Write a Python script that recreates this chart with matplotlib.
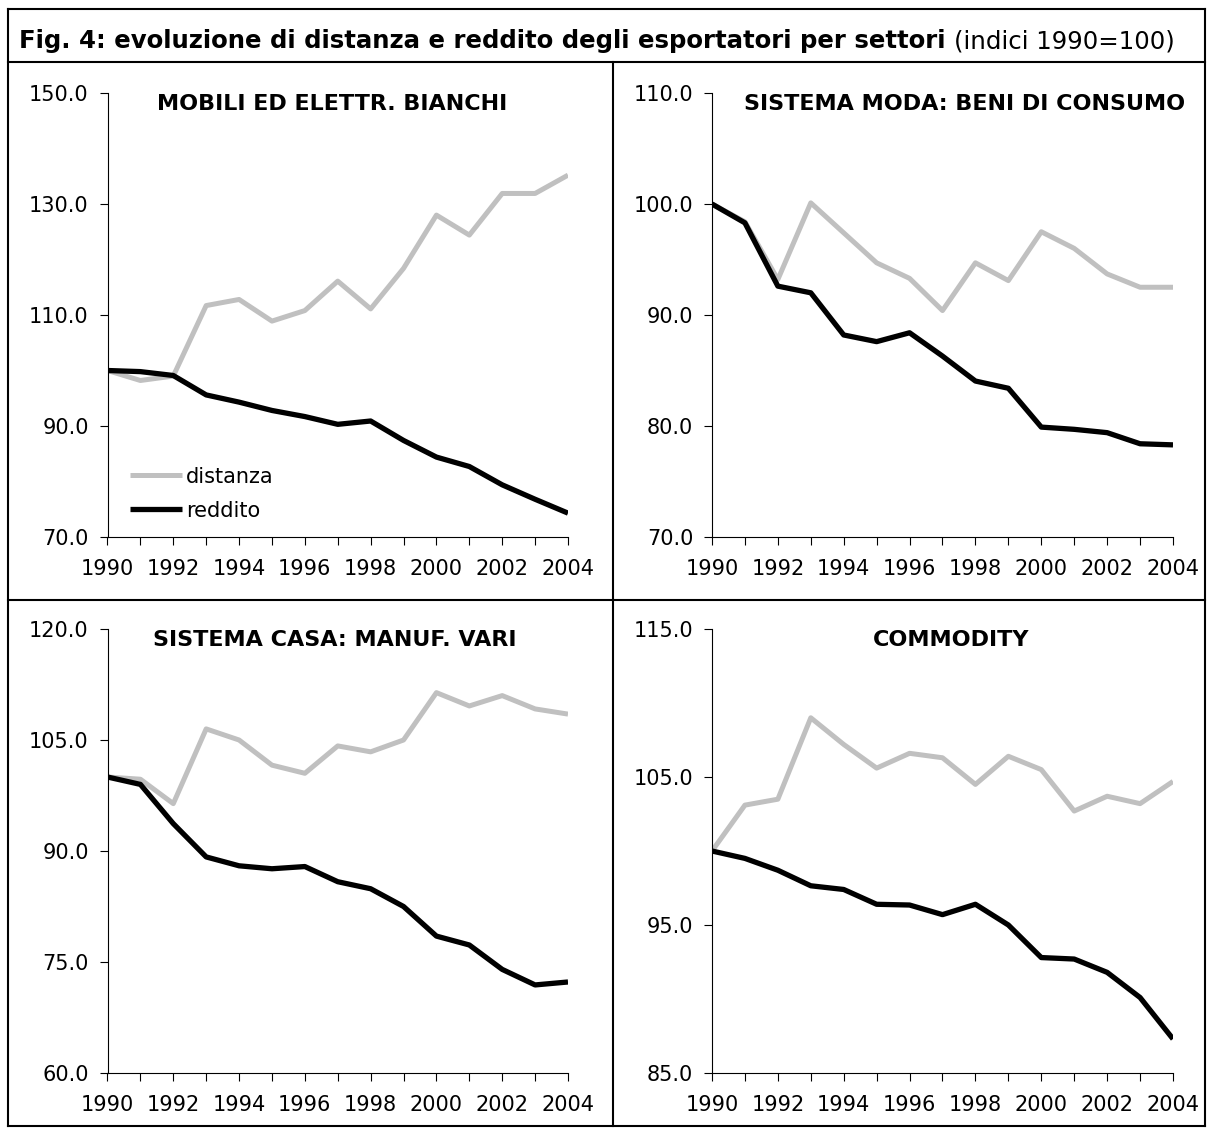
import numpy as np
import matplotlib.pyplot as plt
from matplotlib.lines import Line2D

years = np.arange(1990, 2005)

titles = ["MOBILI ED ELETTR. BIANCHI", "SISTEMA MODA: BENI DI CONSUMO",
          "SISTEMA CASA: MANUF. VARI", "COMMODITY"]

distanza_mobili = [100.0, 98.2, 99.0, 111.7, 112.8, 108.9, 110.8, 116.1, 111.1, 118.4, 128.0, 124.4, 131.9, 131.9, 135.2]
reddito_mobili = [100.0, 99.8, 99.1, 95.6, 94.3, 92.8, 91.7, 90.3, 90.9, 87.4, 84.4, 82.7, 79.4, 76.8, 74.3]

distanza_moda = [100.0, 98.4, 93.2, 100.1, 97.4, 94.7, 93.3, 90.4, 94.7, 93.1, 97.5, 96.0, 93.7, 92.5, 92.5]
reddito_moda = [100.0, 98.3, 92.6, 92.0, 88.2, 87.6, 88.4, 86.3, 84.05, 83.4, 79.9, 79.7, 79.4, 78.4, 78.3]

distanza_casa = [100.0, 99.7, 96.4, 106.5, 105.0, 101.6, 100.5, 104.2, 103.4, 105.0, 111.4, 109.6, 111.0, 109.2, 108.5]
reddito_casa = [100.0, 99.0, 93.7, 89.2, 88.0, 87.6, 87.9, 85.85, 84.9, 82.5, 78.5, 77.3, 74.0, 71.9, 72.3]

distanza_comm = [100.0, 103.1, 103.5, 109.0, 107.2, 105.6, 106.6, 106.3, 104.5, 106.4, 105.5, 102.7, 103.7, 103.2, 104.7]
reddito_comm = [100.0, 99.5, 98.7, 97.65, 97.4, 96.4, 96.35, 95.7, 96.4, 95.0, 92.8, 92.7, 91.8, 90.1, 87.3]

yticks = [np.arange(70, 151, 20), np.arange(70, 111, 10),
          np.arange(60, 121, 15), np.arange(85, 116, 10)]

series = [(distanza_mobili, reddito_mobili), (distanza_moda, reddito_moda),
          (distanza_casa, reddito_casa), (distanza_comm, reddito_comm)]

W, H = 1207, 1128
fig = plt.figure(figsize=(W / 100, H / 100), dpi=100)

# axes boxes in pixels: left, right, top, bottom
boxes = [(107.5, 568, 93, 537), (712, 1173, 93, 537),
         (107.5, 568, 629, 1073), (712, 1173, 629, 1073)]
title_x = [0.488, 0.547, 0.494, 0.518]

for i, (l, r, t, b) in enumerate(boxes):
    ax = fig.add_axes([l / W, 1 - b / H, (r - l) / W, (b - t) / H])
    dist, redd = series[i]
    ax.plot(years, dist, color='#c0c0c0', lw=3.6, solid_capstyle='butt', label='distanza')
    ax.plot(years, redd, color='black', lw=3.8, solid_capstyle='butt', label='reddito')
    ax.set_xlim(1990, 2004)
    ax.set_ylim(yticks[i][0], yticks[i][-1])
    ax.set_yticks(yticks[i])
    ax.set_yticklabels(['%.1f' % v for v in yticks[i]])
    ax.set_xticks(years)
    ax.set_xticklabels([str(y) if y % 2 == 0 else '' for y in years])
    ax.tick_params(direction='out', length=5.5, width=0.8, labelsize=15, pad=8)
    ax.tick_params(axis='x', pad=10)
    for s in ['top', 'right']:
        ax.spines[s].set_visible(False)
    for s in ['left', 'bottom']:
        ax.spines[s].set_linewidth(0.8)
    ax.text(title_x[i], 0.975, titles[i], transform=ax.transAxes, ha='center', va='center',
            fontsize=16, fontweight='bold')
    if i == 0:
        ax.legend(loc='upper left', bbox_to_anchor=(0.049, 0.1586), frameon=False,
                  fontsize=15, handlelength=2.5, handletextpad=0.2, labelspacing=0.68,
                  borderpad=0, borderaxespad=0)

# frame lines
def hline(y, x0, x1):
    fig.add_artist(Line2D([x0 / W, x1 / W], [1 - y / H, 1 - y / H], color='black', lw=1.5))

def vline(x, y0, y1):
    fig.add_artist(Line2D([x / W, x / W], [1 - y0 / H, 1 - y1 / H], color='black', lw=1.5))

hline(9, 8, 1205)
hline(62, 8, 1205)
hline(600, 8, 1205)
hline(1126, 8, 1205)
vline(8, 9, 1126)
vline(1205, 9, 1126)
vline(613, 62, 1126)

t1 = fig.text(19 / W, 1 - 41 / H, "Fig. 4: evoluzione di distanza e reddito degli esportatori per settori",
              fontsize=17.6, fontweight='bold', va='center', ha='left')
fig.canvas.draw()
bb = t1.get_window_extent()
fig.text((bb.x1 + 8) / W, 1 - 41 / H, "(indici 1990=100)", fontsize=17.6, va='center', ha='left')

fig.savefig('out.png', dpi=100)
